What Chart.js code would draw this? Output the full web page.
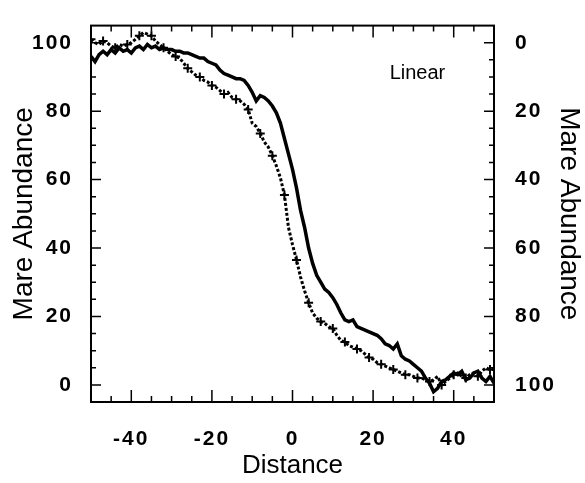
<!DOCTYPE html>
<html>
<head>
<meta charset="utf-8">
<script src="https://cdn.jsdelivr.net/npm/chart.js@4.4.1/dist/chart.umd.min.js"></script>
<style>
    html, body { margin: 0; padding: 0; background: #fff; }
    #contenedor { width: 585px; height: 483px; }
</style>
</head>
<body>
<div id="contenedor"><canvas id="grafico"></canvas></div>
<script>
// Datos (una muestra por unidad de distancia)
const distancia = [
    -50, -49, -48, -47, -46, -45, -44, -43, -42, -41,
    -40, -39, -38, -37, -36, -35, -34, -33, -32, -31,
    -30, -29, -28, -27, -26, -25, -24, -23, -22, -21,
    -20, -19, -18, -17, -16, -15, -14, -13, -12, -11,
    -10, -9, -8, -7, -6, -5, -4, -3, -2, -1,
    0, 1, 2, 3, 4, 5, 6, 7, 8, 9,
    10, 11, 12, 13, 14, 15, 16, 17, 18, 19,
    20, 21, 22, 23, 24, 25, 26, 27, 28, 29,
    30, 31, 32, 33, 34, 35, 36, 37, 38, 39,
    40, 41, 42, 43, 44, 45, 46, 47, 48, 49, 50
];

// Curva continua
const serieContinua = [
    96.0, 94.5, 96.5, 97.5, 96.5, 98.0, 97.0, 98.5, 97.5, 98.0,
    97.0, 98.5, 99.0, 98.0, 99.5, 98.5, 99.0, 98.0, 98.5, 98.0,
    98.0, 97.5, 97.5, 97.0, 97.0, 96.5, 96.0, 95.5, 95.5, 94.5,
    94.0, 93.5, 92.0, 91.0, 90.5, 90.0, 89.5, 89.5, 89.0, 87.5,
    85.5, 83.0, 84.5, 84.0, 83.0, 81.5, 79.5, 76.5, 72.0, 67.5,
    63.0, 57.5, 51.0, 46.0, 40.0, 35.5, 32.0, 30.0, 28.0, 27.0,
    25.5, 23.5, 21.0, 19.0, 18.5, 19.0, 17.0, 16.5, 16.0, 15.5,
    15.0, 14.5, 13.5, 12.0, 11.5, 10.5, 12.0, 8.5, 7.5, 7.0,
    6.0, 5.0, 4.0, 2.0, 0.5, -2.0, -1.0, 1.0, 1.5, 2.5,
    3.5, 3.0, 4.0, 1.5, 2.0, 3.5, 4.0, 2.0, 1.0, 2.5, 0.5
];

// Curva punteada con cruces
const serieCruces = [
    101.0, 100.0, 99.5, 100.5, 100.0, 99.0, 98.5, 99.5, 99.0, 99.5,
    100.0, 101.0, 102.0, 103.0, 102.5, 102.0, 100.5, 99.5, 98.5, 97.5,
    96.5, 96.0, 95.5, 94.0, 92.5, 91.5, 90.5, 90.0, 89.0, 88.5,
    87.5, 87.0, 86.0, 85.0, 85.5, 84.0, 83.5, 83.0, 82.0, 80.5,
    76.5, 75.5, 73.5, 71.0, 69.5, 67.0, 64.0, 60.5, 55.5, 46.0,
    41.0, 36.5, 31.5, 27.5, 24.0, 21.0, 19.5, 18.5, 18.0, 17.0,
    16.5, 14.5, 13.0, 12.5, 11.5, 11.0, 10.5, 10.0, 9.0, 8.0,
    7.5, 6.5, 6.0, 5.5, 5.0, 4.5, 4.0, 3.5, 3.0, 3.0,
    2.5, 2.0, 2.0, 1.5, 1.0, 1.5, 2.5, 0.0, 1.0, 2.0,
    3.0, 3.5, 2.5, 2.0, 3.0, 3.5, 2.5, 4.0, 5.0, 4.5, 4.5
];

const ticksX = [-40, -20, 0, 20, 40];
const ticksY = [0, 20, 40, 60, 80, 100];
const ticksMenoresX = [-50, -45, -40, -35, -30, -25, -20, -15, -10, -5, 0, 5, 10, 15, 20, 25, 30, 35, 40, 45, 50];
const ticksMenoresY = [0, 5, 10, 15, 20, 25, 30, 35, 40, 45, 50, 55, 60, 65, 70, 75, 80, 85, 90, 95, 100];

const fuente = '"Liberation Sans", Arial, sans-serif';
Chart.defaults.font.family = fuente;
Chart.defaults.color = '#000';

// Marco, marcas hacia adentro y etiqueta "Linear"
const marcoPlugin = {
    id: 'marco',
    beforeDraw(chart) {
        chart.ctx.letterSpacing = '0px';
    },
    afterDatasetsDraw(chart) {
        // las etiquetas de los ticks se dibujan después (z = 1) con espaciado
        chart.ctx.letterSpacing = '2px';
    },
    afterDraw(chart) {
        const ctx = chart.ctx;
        const { left, right, top, bottom } = chart.chartArea;
        const sx = chart.scales.x;
        const sy = chart.scales.y;
        const sy2 = chart.scales.y2;

        ctx.save();
        ctx.letterSpacing = '0px';
        ctx.strokeStyle = '#000';
        ctx.lineWidth = 2;
        ctx.strokeRect(left, top, right - left, bottom - top);

        ctx.lineWidth = 1.5;
        ctx.beginPath();
        ticksMenoresX.forEach(v => {
            const px = sx.getPixelForValue(v);
            const largo = ticksX.includes(v) ? 12 : 6;
            ctx.moveTo(px, bottom);
            ctx.lineTo(px, bottom - largo);
            ctx.moveTo(px, top);
            ctx.lineTo(px, top + largo);
        });
        ticksMenoresY.forEach(v => {
            const py = sy.getPixelForValue(v);
            const largo = ticksY.includes(v) ? 10 : 5;
            ctx.moveTo(left, py);
            ctx.lineTo(left + largo, py);
        });
        ticksMenoresY.forEach(v => {
            const py = sy2.getPixelForValue(v);
            const largo = ticksY.includes(v) ? 10 : 5;
            ctx.moveTo(right, py);
            ctx.lineTo(right - largo, py);
        });
        ctx.stroke();

        ctx.fillStyle = '#000';
        ctx.font = '20px ' + fuente;
        ctx.textAlign = 'center';
        ctx.textBaseline = 'middle';
        ctx.fillText('Linear', sx.getPixelForValue(31), sy.getPixelForValue(91));
        ctx.restore();
    }
};

const ctx = document.getElementById('grafico').getContext('2d');
new Chart(ctx, {
    type: 'line',
    data: {
        datasets: [
            {
                label: 'Continua',
                data: distancia.map((d, i) => ({ x: d, y: serieContinua[i] })),
                borderColor: '#000',
                borderWidth: 3.5,
                pointRadius: 0,
                tension: 0,
                yAxisID: 'y'
            },
            {
                label: 'Cruces',
                data: distancia.map((d, i) => ({ x: d, y: serieCruces[i] })),
                borderColor: '#000',
                borderWidth: 3,
                borderDash: [3, 2],
                pointStyle: 'cross',
                pointRadius: c => (c.dataIndex % 3 === 0 ? 4.5 : 0),
                pointBorderWidth: 2,
                pointBorderColor: '#000',
                tension: 0,
                yAxisID: 'y'
            }
        ]
    },
    options: {
        responsive: true,
        maintainAspectRatio: false,
        animation: false,
        layout: { padding: { top: 11, left: 0, right: 0, bottom: 0 } },
        plugins: {
            legend: { display: false },
            tooltip: { enabled: false }
        },
        scales: {
            x: {
                type: 'linear',
                min: -50,
                max: 50,
                afterBuildTicks: s => { s.ticks = ticksX.map(v => ({ value: v })); },
                afterFit: s => { s.height = 81; },
                grid: { display: false },
                border: { display: false },
                ticks: { z: 1, padding: 17, maxRotation: 0, font: { size: 21, weight: 'bold' } },
                title: { display: true, text: 'Distance', font: { size: 26, lineHeight: 1 }, padding: { top: 0, bottom: 4 } }
            },
            y: {
                type: 'linear',
                position: 'left',
                min: -5,
                max: 105,
                afterBuildTicks: s => { s.ticks = ticksY.map(v => ({ value: v })); },
                afterFit: s => { s.width = 91; },
                grid: { display: false },
                border: { display: false },
                ticks: { z: 1, padding: 10, font: { size: 21, weight: 'bold' } },
                title: { display: true, text: 'Mare Abundance', font: { size: 28, lineHeight: 1 }, padding: { top: 10, bottom: 0 } }
            },
            y2: {
                type: 'linear',
                position: 'right',
                reverse: true,
                min: -5,
                max: 105,
                afterBuildTicks: s => { s.ticks = ticksY.map(v => ({ value: v })); },
                afterFit: s => { s.width = 91; },
                grid: { display: false },
                border: { display: false },
                ticks: { z: 1, padding: 13, font: { size: 21, weight: 'bold' } },
                title: { display: true, text: 'Mare Abundance', font: { size: 28, lineHeight: 1 }, padding: { top: 2, bottom: 0 } }
            }
        }
    },
    plugins: [marcoPlugin]
});
</script>
</body>
</html>
